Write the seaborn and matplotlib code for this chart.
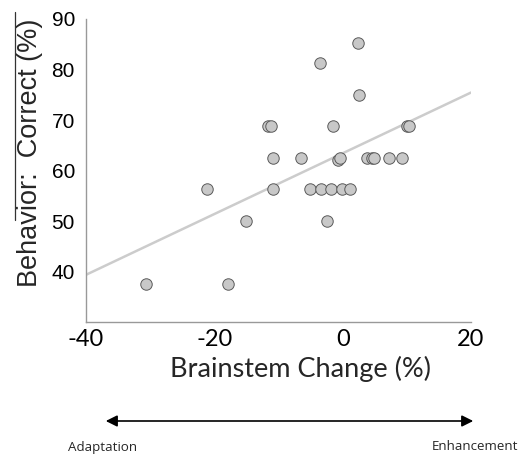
import numpy as np
import matplotlib
matplotlib.use("Agg")
import matplotlib.pyplot as plt
from matplotlib.lines import Line2D
import seaborn as sns
import pandas as pd

# Brainstem change (%) vs behaviour (% correct)
brainstem_change = [-30.6, -21.2, -17.9, -15.0, -11.6, -11.15, -10.9, -10.9,
                    -6.5, -5.1, -3.6, -3.4, -2.5, -1.8, -1.55, -0.8, -0.4,
                    -0.15, 1.15, 2.45, 2.55, 3.8, 4.6, 4.85, 7.2, 9.2, 10.1, 10.4]
percent_correct = [37.5, 56.25, 37.5, 50.0, 68.75, 68.75, 62.5, 56.25,
                   62.5, 56.25, 81.25, 56.25, 50.0, 56.25, 68.75, 62.1, 62.5,
                   56.25, 56.25, 85.2, 75.0, 62.5, 62.5, 62.5, 62.5, 62.5, 68.75, 68.75]
x_ticks = [-40, -20, 0, 20]
y_ticks = [40, 50, 60, 70, 80, 90]

df = pd.DataFrame({"change": brainstem_change, "correct": percent_correct})

sns.set_style("white")
plt.rcParams["font.family"] = ["Liberation Sans", "DejaVu Sans"]
plt.rcParams["axes.unicode_minus"] = False

fig = plt.figure(figsize=(5.24, 4.55), dpi=100)
ax = fig.add_axes([86 / 524, 1 - 322 / 455, 385 / 524, 303 / 455])
ax.set_xlim(-40, 20)
ax.set_ylim(30, 90)

sns.regplot(data=df, x="change", y="correct", ax=ax, ci=None, truncate=False,
            scatter_kws=dict(s=68, color="#c8c8c8", edgecolor="#5a5a5a",
                             linewidths=0.7, alpha=1, zorder=3),
            line_kws=dict(color="#cccccc", linewidth=1.8, zorder=2))

ax.set_xlim(-40, 20)
ax.set_ylim(30, 90)
ax.set_xticks(x_ticks)
ax.set_yticks(y_ticks)

for side in ["top", "right"]:
    ax.spines[side].set_visible(False)
for side in ["left", "bottom"]:
    ax.spines[side].set_color("#999999")
    ax.spines[side].set_linewidth(1.0)

ax.tick_params(axis="both", direction="in", length=3, width=0.8, colors="#999999")
ax.tick_params(axis="y", labelsize=15, labelcolor="black", pad=8)
ax.tick_params(axis="x", labelsize=17, labelcolor="black", pad=5)
for lab in ax.get_xticklabels():
    lab.set_family(["Lato", "DejaVu Sans"])

ax.set_xlabel("Brainstem Change (%)", fontsize=19.5, family=["Lato", "DejaVu Sans"])
ax.xaxis.set_label_coords(0.558, -0.112)
ax.set_ylabel("Behavior:  Correct (%)", fontsize=19.5)
ax.yaxis.set_label_coords(-0.112, 0.56)

# stray rule next to the y label
fig.add_artist(Line2D([15 / 524, 15 / 524], [1 - 12 / 455, 1 - 220 / 455],
                      color="#333333", linewidth=0.9))

# direction arrow under the axis
fig.add_artist(matplotlib.patches.FancyArrowPatch(
    (103 / 524, 1 - 421 / 455), (476 / 524, 1 - 421 / 455),
    transform=fig.transFigure, arrowstyle="<|-|>", mutation_scale=17,
    color="black", linewidth=1.2))
fig.text(68 / 524, 1 - 447 / 455, "Adaptation", fontsize=9.6,
         family=["Open Sans", "DejaVu Sans"], va="center", ha="left")
fig.text(518 / 524, 1 - 447 / 455, "Enhancement", fontsize=9.6,
         family=["Open Sans", "DejaVu Sans"], va="center", ha="right")

fig.savefig("out.png", dpi=100)
